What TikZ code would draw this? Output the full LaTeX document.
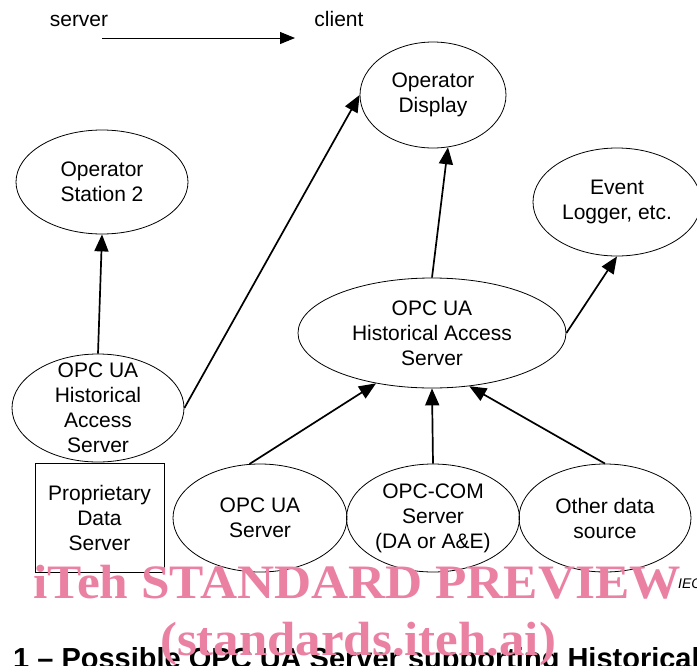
\documentclass[tikz,border=0pt]{standalone}
\usepackage{fontspec}
\setmainfont{Liberation Sans}
\newfontfamily\wmfont{Liberation Serif}
\usetikzlibrary{shapes.geometric,arrows.meta}

\definecolor{wmpink}{RGB}{234,128,162}
\newcommand{\boxfont}{\fontsize{21}{25}\selectfont}

\tikzset{
  oval/.style={draw,ellipse,line width=0.8pt,inner sep=-12pt,align=center},
  flow/.style={line width=1.7pt,-{Triangle[length=17pt,width=14pt]}},
  mark text/.style={anchor=base west,inner sep=0pt,text=wmpink,font=\wmfont\bfseries\fontsize{48}{48}\selectfont},
}

\begin{document}
\begin{tikzpicture}[x=1pt,y=-1pt,font=\boxfont]
\useasboundingbox (0,0) rectangle (697,665);
\begin{scope}
\clip (0,0) rectangle (697,665);
% legend
\node[anchor=base,inner sep=0pt] (srv) at (79,26) {server};
\node[anchor=base,inner sep=0pt] (cli) at (339,26) {client};
\coordinate (ls) at (102,38);
\coordinate (le) at (295,38);
\draw[line width=0.9pt,-{Triangle[length=15pt,width=12pt]}] (ls) -- (le);
% clients
\node[oval,minimum width=146pt,minimum height=106pt] (disp) at (433,95) {Operator\\Display};
\node[oval,minimum width=172pt,minimum height=104pt] (st2) at (102,182) {Operator\\Station 2};
\node[oval,minimum width=168pt,minimum height=108pt] (ev) at (617,202) {Event\\Logger, etc.};
% historical access servers
\node[oval,minimum width=268pt,minimum height=110pt] (cha) at (432,333) {OPC UA\\Historical Access\\Server};
\node[oval,minimum width=172pt,minimum height=108pt] (lha) at (98,408) {OPC UA\\Historical\\Access\\Server};
% data sources
\node[draw,line width=0.8pt,minimum width=129pt,minimum height=109pt,inner sep=0pt,align=center] (pds) at (99.5,517.5) {Proprietary\\Data\\Server};
\node[oval,minimum width=174pt,minimum height=108pt] (ua) at (260,518) {OPC UA\\Server};
\node[oval,minimum width=173pt,minimum height=108pt] (com) at (433,518) {OPC-COM\\Server\\(DA or A\&E)};
\node[oval,minimum width=172pt,minimum height=108pt] (oth) at (605,518) {Other data\\source};
% connectors
\draw[flow] (lha.north) -- (st2.south);
\draw[flow] (lha.east) -- (disp.west);
\draw[flow] (cha.north) -- (disp.286);
\draw[flow] (cha.east) -- (ev.south);
\draw[flow] (ua.101) -- (cha.222);
\draw[flow] (com.north) -- (cha.south);
\draw[flow] (oth.north) -- (cha.305);
% footer
\node[anchor=base west,inner sep=0pt,font=\fontsize{14}{14}\selectfont\itshape] (iec) at (678,588) {IEC};
\node[anchor=base west,inner sep=0pt,font=\bfseries\fontsize{29}{29}\selectfont] (cap) at (13,668) {1 -- Possible OPC UA Server supporting Historical};
\node[mark text] (wm1) at (33,598) {\scalebox{1.07}[1]{iTeh STANDARD PREVIEW}};
\node[mark text] (wm2) at (160,655) {\scalebox{1.06}[1]{(standards.iteh.ai)}};
\end{scope}
\end{tikzpicture}
\end{document}
